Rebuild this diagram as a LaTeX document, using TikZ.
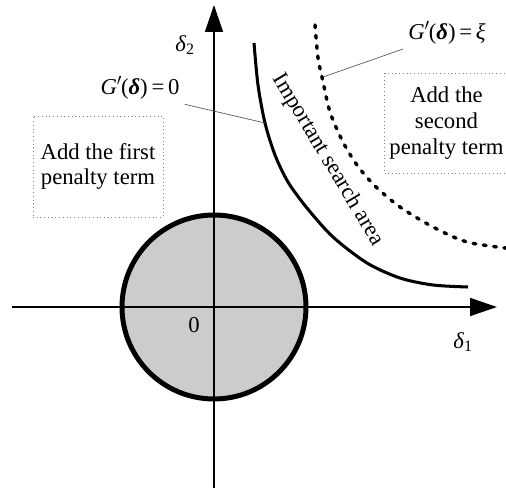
\documentclass[tikz,border=0pt]{standalone}
\usepackage{fontspec}
\setmainfont{Liberation Serif}
\usetikzlibrary{arrows.meta}
\newcommand{\Gdel}{\textit{G}$'$\kern-0.05em(\textbf{\textit{δ}})}
\tikzset{
  penbox/.style={draw=gray,dotted,line width=0.7pt,align=center},
  leader/.style={draw=gray!70!black,line width=0.5pt},
  bound/.style={line width=2.2pt}
}
\begin{document}
\begin{tikzpicture}[x=1in,y=1in,>={Triangle[length=0.27in,width=0.18in]},
  font=\fontsize{16.4}{18.7}\selectfont]
\useasboundingbox (-2.14,-1.81) rectangle (2.92,3.07);
% first penalty region and axes
\fill[black!20] (0,0) circle (0.92);
\draw[line width=1.1pt,->] (-2.02,0)--(2.83,0);
\draw[line width=1.1pt,->] (0,-1.81)--(0,3.02);
\draw[line width=3.6pt] (0,0) circle (0.92);
\node (d1) at (2.49,-0.35) {\textit{δ}\textsubscript{1}};
\node (d2) at (-0.29,2.62) {\textit{δ}\textsubscript{2}};
\node (orig) at (-0.20,-0.18) {0};
% constraint boundaries
\draw[bound] plot[smooth,tension=0.5] coordinates
 {(0.40,2.64) (0.44,2.22) (0.51,1.84) (0.61,1.52) (0.74,1.25) (0.93,0.99)
  (1.19,0.70) (1.53,0.44) (1.86,0.29) (2.19,0.22) (2.54,0.20)};
\draw[line width=2.5pt,line cap=round,dash pattern=on 2pt off 5.5pt]
 plot[smooth,tension=0.5] coordinates
 {(1.01,2.82) (1.04,2.49) (1.08,2.30) (1.16,1.95) (1.29,1.65) (1.43,1.42)
  (1.61,1.21) (1.86,1.00) (2.19,0.80) (2.53,0.65) (2.96,0.585)};
\coordinate (c0) at (0.51,1.84);
\coordinate (c1) at (1.09,2.30);
\node[rotate=-59] (area) at (1.14,1.47) {Important search area};
% labels
\node[inner sep=0.05in] (g0) at (-0.74,2.19) {\Gdel\,=\,0};
\node[inner sep=0.05in] (gxi) at (2.33,2.74) {\Gdel\,=\,\textit{ξ}};
\draw[leader] (g0.-20) -- (c0);
\draw[leader] (gxi.200) -- (c1);
\node[penbox,minimum width=1.30in,minimum height=1.01in] (pen1) at (-1.16,1.405)
 {Add the first\\penalty term};
\node[penbox,minimum width=1.24in,minimum height=1.00in] (pen2) at (2.325,1.84)
 {Add the\\second\\penalty term};
\end{tikzpicture}
\end{document}
